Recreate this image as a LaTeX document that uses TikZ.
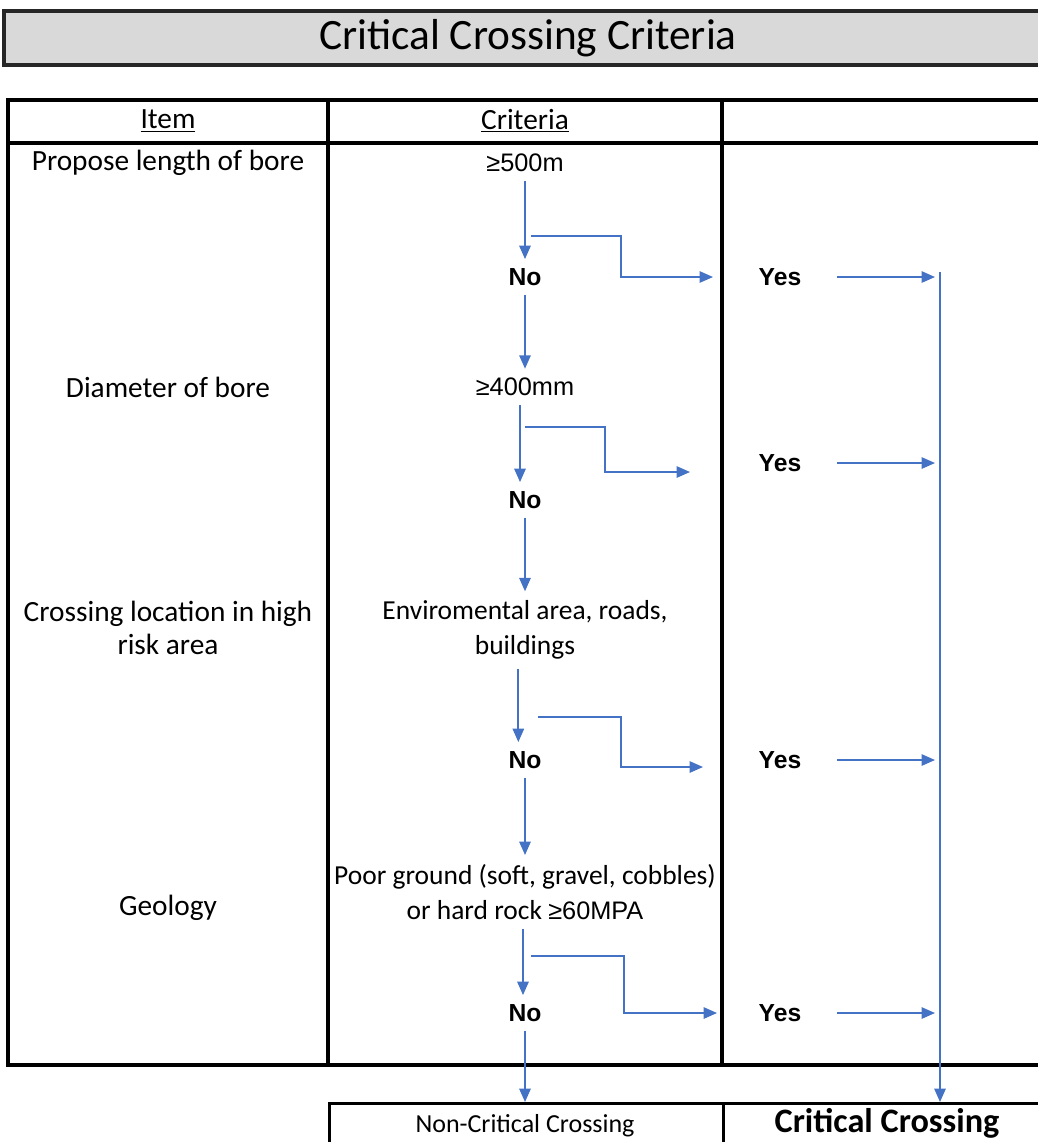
\documentclass[tikz,border=0pt]{standalone}
\usepackage{fontspec}
\setmainfont{Carlito}
\newfontfamily\arialf{Liberation Sans}
\usetikzlibrary{arrows.meta}
\definecolor{arrblue}{HTML}{4472C4}
\definecolor{titlegray}{HTML}{D9D9D9}
\begin{document}
\begin{tikzpicture}[x=0.75pt,y=-0.75pt,
  body/.style={font=\fontsize{22}{25}\selectfont, align=center, inner sep=0pt, outer sep=7pt},
  crit/.style={font=\fontsize{20.6}{26.25}\selectfont, align=center, inner sep=0pt, outer sep=7pt},
  num/.style={font=\arialf\fontsize{19}{23}\selectfont, inner sep=0pt, outer sep=7pt},
  yn/.style={font=\arialf\bfseries\fontsize{18.5}{21}\selectfont, inner sep=0pt, outer sep=7pt},
  arr/.style={draw=arrblue, line width=1.3pt, -{Triangle[length=10pt,width=8.5pt]}},
  brl/.style={draw=arrblue, line width=1.2pt, -{Triangle[length=10pt,width=8.5pt]}},
  grid/.style={line width=2.6pt, draw=black},
  cellbox/.style={grid, anchor=north west, inner sep=0pt, minimum height=60pt}
]
\useasboundingbox (0,0) rectangle (1038,1142);
\clip (0,0) rectangle (1038,1142);

% title
\draw[grid, draw=black!85, fill=titlegray] (4,11) rectangle (1060,65);
\node[font=\fontsize{32.5}{38}\selectfont, inner sep=0pt] (title) at (528,38) {Critical Crossing Criteria};

% table
\draw[grid] (8,100) rectangle (1060,1065);
\draw[grid] (8,143) -- (1060,143);
\draw[grid] (328,100) -- (328,1065);
\draw[grid] (722,100) -- (722,1065);

% headers
\node[body] (hitem) at (168,121) {\underline{Item}};
\node[body] (hcrit) at (525,121) {\underline{Criteria}};

% item column
\node[body] (i1) at (168,163) {Propose length of bore};
\node[body] (i2) at (168,387) {Diameter of bore};
\node[body] (i3) at (168,628) {Crossing location in high\\risk area};
\node[body] (i4) at (168,908) {Geology};

% criteria column
\node[num] (c1) at (525,163) {≥500m};
\node[yn] (no1) at (525,277) {No};
\node[num] (c2) at (525,387) {≥400mm};
\node[yn] (no2) at (525,500) {No};
\node[crit] (c3) at (525,630) {Enviromental area, roads,\\buildings};
\node[yn] (no3) at (525,760) {No};
\node[crit] (c4) at (525,892) {Poor ground (soft, gravel, cobbles)\\or hard rock {\arialf\fontsize{19}{23}\selectfont ≥60MPA}};
\node[yn] (no4) at (525,1013) {No};

% yes column
\node[yn] (y1) at (780,277) {Yes};
\node[yn] (y2) at (780,463) {Yes};
\node[yn] (y3) at (780,760) {Yes};
\node[yn] (y4) at (780,1013) {Yes};

% bottom cells
\node[cellbox, minimum width=295.5pt] (noncell) at (328,1102) {};
\node[cellbox, minimum width=252pt] (critcell) at (722,1102) {};
\node[font=\fontsize{19.5}{22}\selectfont, inner sep=0pt] (noncrit) at (525,1126) {Non-Critical Crossing};
\node[font=\fontsize{25.7}{30}\selectfont\bfseries, inner sep=0pt] (critc) at (887,1123) {Critical Crossing};

% coordinates
\coordinate (b1) at (531,236); \coordinate (k1) at (621,277); \coordinate (e1) at (713,277);
\coordinate (b2) at (525,427); \coordinate (k2) at (605,472); \coordinate (e2) at (690,472);
\coordinate (b3) at (538,717); \coordinate (k3) at (621,767); \coordinate (e3) at (703,767);
\coordinate (b4) at (531,956); \coordinate (k4) at (624,1013); \coordinate (e4) at (717,1013);
\coordinate (ye1) at (935,277);
\coordinate (ye2) at (935,463);
\coordinate (ye3) at (935,760);
\coordinate (ye4) at (935,1013);
\coordinate (vtop) at (940,272);

% main flow
\draw[arr] (c1) -- (no1);
\draw[arr] (no1) -- (c2);
\draw[arr] ([xshift=-3.75pt]c2.south) -- ([xshift=-3.75pt]no2.north);
\draw[arr] (no2) -- (c3);
\draw[arr] ([xshift=-5pt]c3.south) -- ([xshift=-5pt]no3.north);
\draw[arr] (no3) -- (c4);
\draw[arr] ([xshift=-1.5pt]c4.south) -- ([xshift=-1.5pt]no4.north);
\draw[arr] (no4) -- (no4 |- noncell.north);

% branches
\draw[brl] (b1) -| (k1) -- (e1);
\draw[brl] (b2) -| (k2) -- (e2);
\draw[brl] (b3) -| (k3) -- (e3);
\draw[brl] (b4) -| (k4) -- (e4);

% yes arrows
\draw[brl, shorten <=20pt] (y1) -- (ye1);
\draw[brl, shorten <=20pt] (y2) -- (ye2);
\draw[brl, shorten <=20pt] (y3) -- (ye3);
\draw[brl, shorten <=20pt] (y4) -- (ye4);
\draw[brl] (vtop) -- (vtop |- critcell.north);
\end{tikzpicture}
\end{document}
